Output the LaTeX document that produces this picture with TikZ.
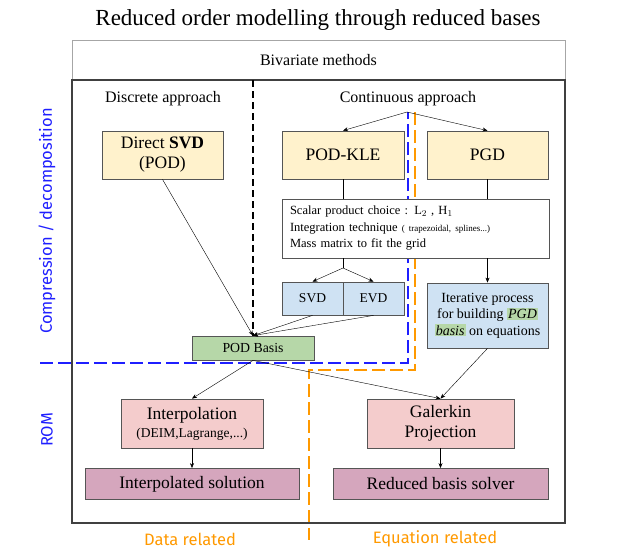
\documentclass[tikz,border=0pt]{standalone}
\usepackage{fontspec}
\setmainfont{Liberation Serif}
\newfontfamily\handfont{Fira Sans}
\usetikzlibrary{arrows.meta, backgrounds}
\definecolor{methodYellow}{HTML}{FFF2CC}
\definecolor{decompBlue}{HTML}{CFE2F3}
\definecolor{basisGreen}{HTML}{B6D7A8}
\definecolor{romPink}{HTML}{F4CCCC}
\definecolor{romMauve}{HTML}{D5A6BD}
\definecolor{blockBorder}{HTML}{555555}
\definecolor{frameGray}{HTML}{404040}
\definecolor{zoneBlue}{HTML}{1F1FFF}
\definecolor{zoneOrange}{HTML}{FF9900}
\newcommand{\pgdmark}[1]{{\setlength{\fboxsep}{1pt}\colorbox{basisGreen}{\itshape #1}}}

\begin{document}
\begin{tikzpicture}[x=1pt, y=-1pt,
      every node/.style={font=\fontsize{17.5}{20}\selectfont},
      block/.style={draw=blockBorder, line width=0.8pt, inner sep=0pt, align=center},
      zone/.style={line width=2.4pt, dash pattern=on 13pt off 5pt},
      hand/.style={font=\handfont\fontsize{16.5}{18}\selectfont},
      >={Stealth[length=5pt, width=4pt]}]
      \useasboundingbox (0,0) rectangle (630,552);

      % Title and frame
      \node[font=\fontsize{23}{26}\selectfont] (title) at (318,20) {Reduced order modelling through reduced bases};
      \node[draw=gray!70, line width=0.8pt, minimum width=493pt, minimum height=40pt, font=\fontsize{16}{18}\selectfont] (biv) at (318.5,60) {Bivariate methods};
      \draw[frameGray, line width=2.4pt] (72,80) rectangle (565,523);
      \node[font=\fontsize{16}{18}\selectfont] (discrete) at (163,99) {Discrete approach};
      \node[font=\fontsize{16}{18}\selectfont] (continuous) at (408,99) {Continuous approach};

      % Methods
      \node[block, fill=methodYellow, minimum width=121pt, minimum height=48pt] (directsvd) at (162.5,155) {Direct \textbf{SVD}\\(POD)};
      \node[block, fill=methodYellow, minimum width=122pt, minimum height=48pt] (podkle) at (343,155) {POD-KLE};
      \node[block, fill=methodYellow, minimum width=121pt, minimum height=48pt] (pgd) at (487.5,155) {PGD};
      \node[block, fill=white, minimum width=267pt, minimum height=59pt, text width=251pt, inner xsep=8pt, align=left,
            font=\fontsize{12.5}{16.5}\selectfont] (scalar) at (415.5,228.5)
            {Scalar product choice : L$_2$ , H$_1$\\Integration technique {\fontsize{9}{10}\selectfont( trapezoidal, splines...)}\\Mass matrix to fit the grid};
      \node[block, fill=decompBlue, minimum width=61pt, minimum height=33pt, font=\fontsize{13.5}{15}\selectfont] (svd) at (312.5,298.5) {SVD};
      \node[block, fill=decompBlue, minimum width=61pt, minimum height=33pt, font=\fontsize{13.5}{15}\selectfont] (evd) at (373.5,298.5) {EVD};
      \node[block, fill=decompBlue, minimum width=121pt, minimum height=65pt, font=\fontsize{14}{16.5}\selectfont] (iter) at (487.5,315.5)
            {Iterative process\\for building \pgdmark{PGD}\\\pgdmark{basis} on equations};
      \node[block, fill=basisGreen, minimum width=122pt, minimum height=24pt, font=\fontsize{13.8}{15}\selectfont] (podbasis) at (253,348) {POD Basis};

      % ROM
      \node[block, fill=romPink, minimum width=142pt, minimum height=49pt] (interp) at (192,423.5)
            {Interpolation\\[-2pt]{\fontsize{13.5}{15}\selectfont(DEIM,Lagrange,...)}};
      \node[block, fill=romPink, minimum width=147pt, minimum height=49pt] (galerkin) at (440.5,423.5) {Galerkin\\Projection};
      \node[block, fill=romMauve, minimum width=214pt, minimum height=31pt] (interpsol) at (192,484) {Interpolated solution};
      \node[block, fill=romMauve, minimum width=215pt, minimum height=31pt] (redsolver) at (440.5,484) {Reduced basis solver};

      % Connectors
      \coordinate (contsplit) at (407,112);
      \coordinate (svdsplit) at (343,268);
      \draw[->] (contsplit) -- (podkle.north);
      \draw[->] (contsplit) -- (pgd.north);
      \draw (podkle.south) -- (podkle.south |- scalar.north);
      \draw (pgd.south) -- (pgd.south |- scalar.north);
      \draw (svdsplit |- scalar.south) -- (svdsplit);
      \draw[->] (svdsplit) -- (svd.north);
      \draw[->] (svdsplit) -- (evd.north);
      \draw[->] (iter.north |- scalar.south) -- (iter.north);
      \draw[->] (directsvd.south) -- (podbasis.north);
      \draw[->] (svd.south) -- (podbasis.north);
      \draw[->] (evd.south) -- (podbasis.north);
      \draw[->] (podbasis.south) -- (interp.north);
      \draw[->] (podbasis.south) -- (galerkin.north);
      \draw[->] (iter.south) -- (galerkin.north);
      \draw[->] (interp.south) -- (interpsol.north);
      \draw[->] (galerkin.south) -- (redsolver.north);

      % Zones
      \draw[line width=2.4pt, dash pattern=on 7pt off 4pt] (podbasis.north |- biv.south) -- (podbasis.north);
      \begin{scope}[on background layer]
            \draw[zone, zoneBlue] (40,363) -- (408,363) -- (408,112);
            \draw[zone, zoneOrange] (415,112) -- (415,370) -- (309,370) -- (309,540);
      \end{scope}
      \node[hand, zoneBlue, rotate=90] (compress) at (47,221) {Compression / decomposition};
      \node[hand, zoneBlue, rotate=90] (rom) at (47,430) {ROM};
      \node[hand, zoneOrange] (datarel) at (190,539) {Data related};
      \node[hand, zoneOrange] (eqrel) at (435,539) {Equation related};
\end{tikzpicture}
\end{document}
